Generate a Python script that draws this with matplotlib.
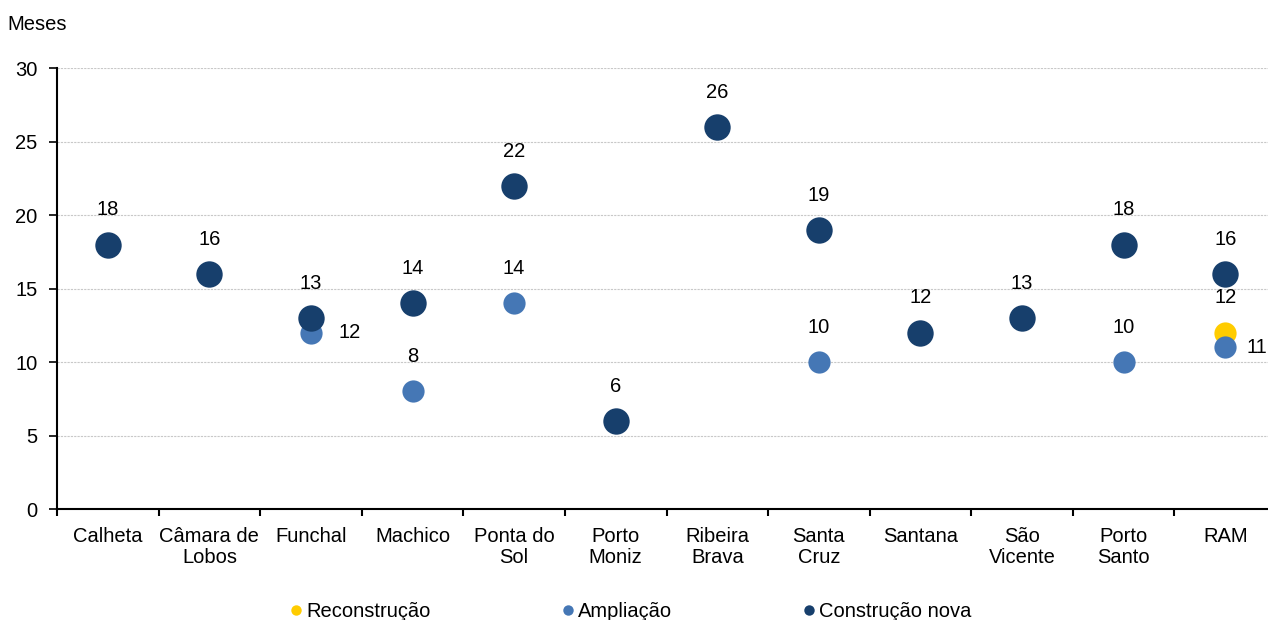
import numpy as np
import matplotlib.pyplot as plt

plt.rcParams['font.family'] = ['Liberation Sans', 'DejaVu Sans']

concelhos = ['Calheta', 'Câmara de\nLobos', 'Funchal', 'Machico', 'Ponta do\nSol',
             'Porto\nMoniz', 'Ribeira\nBrava', 'Santa\nCruz', 'Santana', 'São\nVicente',
             'Porto\nSanto', 'RAM']

# prazo médio (meses) por tipo de obra; None = sem obras desse tipo
reconstrucao = [None, None, None, None, None, None, None, None, None, None, None, 12]
ampliacao = [None, None, 12, 8, 14, None, None, 10, None, None, 10, 11]
construcao_nova = [18, 16, 13, 14, 22, 6, 26, 19, 12, 13, 18, 16]

# rótulos à direita do ponto (deslocamento em pontos) em vez de por cima
lado_direito = {('amp', 2): 20, ('amp', 11): 15}

cor_rec = '#FFCC00'
cor_amp = '#4577B5'
cor_nova = '#173F6C'
fs = 14.5

fig = plt.figure(figsize=(12.68, 6.2), dpi=100)
ax = fig.add_axes([0.045, 0.179, 0.9613, 0.711])

x = np.arange(len(concelhos))


def series(vals):
    xs = [i for i, v in enumerate(vals) if v is not None]
    ys = [v for v in vals if v is not None]
    return xs, ys


series_info = [('rec', reconstrucao, cor_rec, 16, 'Reconstrução'),
               ('amp', ampliacao, cor_amp, 16, 'Ampliação'),
               ('nova', construcao_nova, cor_nova, 19, 'Construção nova')]

handles = []
for key, vals, cor, ms, nome in series_info:
    xs, ys = series(vals)
    ax.plot(xs, ys, 'o', color=cor, markersize=ms, markeredgewidth=0, zorder=3)
    h, = ax.plot([], [], 'o', color=cor, markersize=7.5, markeredgewidth=0, label=nome)
    handles.append(h)
    for xi, yi in zip(xs, ys):
        if (key, xi) in lado_direito:
            ax.annotate(str(yi), (xi, yi), xytext=(lado_direito[(key, xi)], 0),
                        textcoords='offset points', ha='left', va='center', fontsize=fs)
        else:
            ax.annotate(str(yi), (xi, yi), xytext=(0, 25), textcoords='offset points',
                        ha='center', va='center', fontsize=fs)

ax.set_xlim(-0.5, len(concelhos) - 0.5)
ax.set_ylim(0, 30)
ax.set_yticks(range(0, 31, 5))
ax.set_xticks(x)
ax.set_xticklabels(concelhos, fontsize=fs, linespacing=1.15)
ax.set_xticks(np.arange(-0.5, len(concelhos), 1), minor=True)
ax.tick_params(axis='x', which='major', length=0, pad=13)
ax.tick_params(axis='x', which='minor', length=5, width=1.5, direction='out')
ax.tick_params(axis='y', length=6, width=1.2, labelsize=fs, pad=8)

ax.grid(axis='y', color='#C8C8C8', linestyle=(0, (2, 1)), linewidth=0.8)
ax.set_axisbelow(True)
for s in ['top', 'right']:
    ax.spines[s].set_visible(False)
ax.spines['left'].set_linewidth(1.5)
ax.spines['bottom'].set_linewidth(1.5)

fig.text(0.006, 0.96, 'Meses', fontsize=fs, va='center', ha='left')

fig.legend(handles=handles, loc='center', bbox_to_anchor=(0.496, 0.013), ncol=3,
           frameon=False, fontsize=fs, handletextpad=0.0, columnspacing=6.3,
           handlelength=1.0)

fig.savefig('out.png', dpi=100)
